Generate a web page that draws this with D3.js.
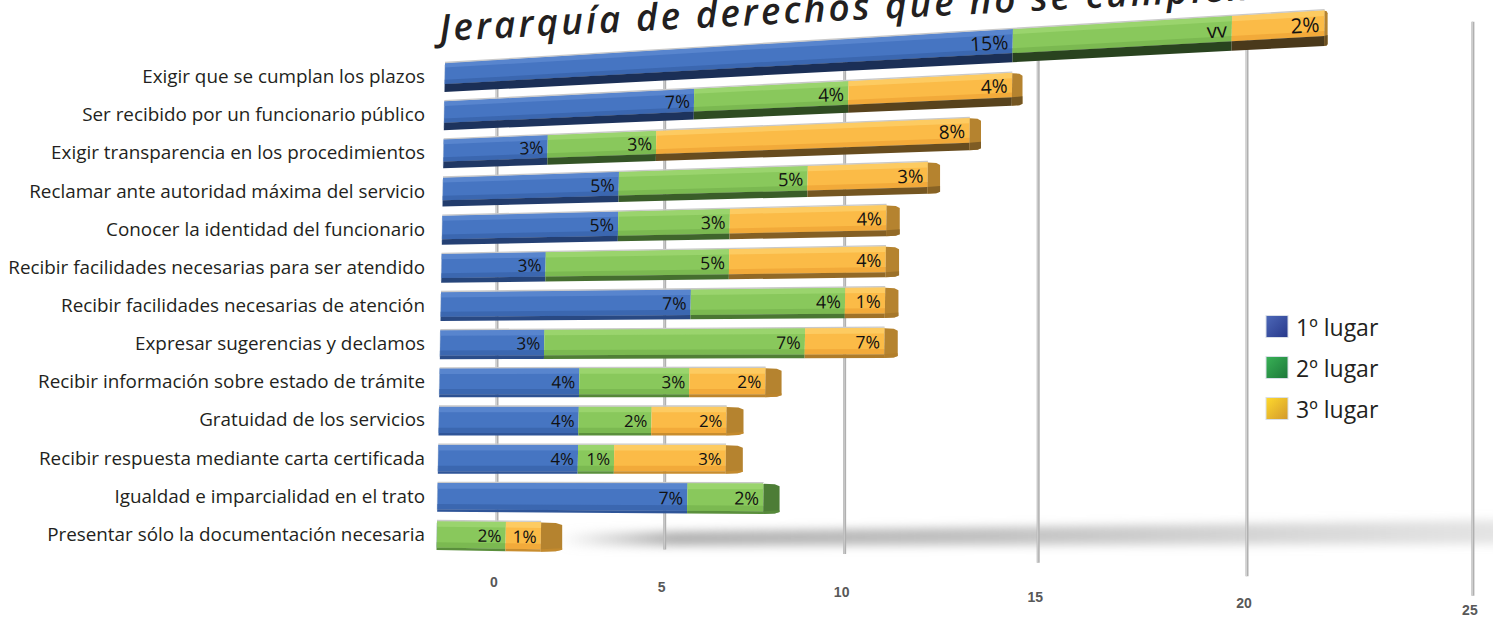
<!DOCTYPE html>
<html><head><meta charset="utf-8">
<script src="https://cdn.jsdelivr.net/npm/d3@7"></script>
<style>html,body{margin:0;padding:0;background:#fff;overflow:hidden}</style>
</head><body>
<svg id="chart" width="1493" height="618"></svg>
<script>
// ---------- DATA ----------
const title = "Jerarquía de derechos que no se cumplen";
const categories = [
  "Exigir que se cumplan los plazos",
  "Ser recibido por un funcionario público",
  "Exigir transparencia en los procedimientos",
  "Reclamar ante autoridad máxima del servicio",
  "Conocer la identidad del funcionario",
  "Recibir facilidades necesarias para ser atendido",
  "Recibir facilidades necesarias de atención",
  "Expresar sugerencias y declamos",
  "Recibir información sobre estado de trámite",
  "Gratuidad de los servicios",
  "Recibir respuesta mediante carta certificada",
  "Igualdad e imparcialidad en el trato",
  "Presentar sólo la documentación necesaria"
];
const seriesNames = ["1º lugar", "2º lugar", "3º lugar"];
const primero = [15, 7, 3, 5, 5, 3, 7, 3, 4, 4, 4, 7, 0];
const segundo = [5, 4, 3, 5, 3, 5, 4, 7, 3, 2, 1, 2, 2];
const tercero = [2, 4, 8, 3, 4, 4, 1, 2, 2, 2, 3, 0, 1];
const primeroLbl = ["15%","7%","3%","5%","5%","3%","7%","3%","4%","4%","4%","7%",""];
const segundoLbl = ["vv","4%","3%","5%","3%","5%","4%","7%","3%","2%","1%","2%","2%"];
const terceroLbl = ["2%","4%","8%","3%","4%","4%","1%","7%","2%","2%","3%","","1%"];
const tickValues = [0, 5, 10, 15, 20, 25];

// ---------- STYLE ----------
const pal = [
  {body:"#4675c2", light:"#5f8bd3", shade:"#3b67b0", mid:"#2f5598", dark:"#1b2f56", cap:"#2c5190", leg0:"#4d68b8", leg1:"#27388a"},
  {body:"#89c85c", light:"#a1d875", shade:"#7bb951", mid:"#5a8f3c", dark:"#29431f", cap:"#4d7d36", leg0:"#39b256", leg1:"#1c773a"},
  {body:"#fbbb47", light:"#fed26c", shade:"#f2aa3a", mid:"#c98d2e", dark:"#4a391b", cap:"#b5832f", leg0:"#ffda2c", leg1:"#d2982d"}
];

const svg = d3.select("#chart");
const defs = svg.append("defs");

// ---------- SCALES + perspective warp ----------
const x = d3.scaleLinear().domain([0, 25]).range([0, 850]);     // bar length (front)
const xg = d3.scaleLinear().domain([0, 25]).range([0, 810]);    // back wall gridlines
const y = d3.scaleBand().domain(categories).range([63, 550]).paddingInner(0.24).paddingOuter(0);
const K = 0.0068 / 34, KG = 0.0068 / 32.4;
function slope(v) {
  if (v < 400) return -0.06 * Math.pow((400 - v) / 337, 1.5);
  if (v > 470) return 0.03 * Math.pow((v - 470) / 113, 1.5);
  return 0;
}
function leftX(v) { return 445 - 8 * (v - 63) / 458; }
function P(u, v) {
  const x0 = leftX(v);
  const X = x0 + u / (1 - K * u);
  return [X, v + slope(v) * (X - x0)];
}
function GX(t) { const u = xg(t); return 497 + u / (1 - KG * u); }
function quad(u0, u1, va, vb) {
  const a = P(u0, va), b = P(u1, va), c = P(u1, vb), d = P(u0, vb);
  return "M" + a + "L" + b + "L" + c + "L" + d + "Z";
}

// ---------- TITLE ----------
const titleText = svg.append("text")
  .attr("x", 440).attr("y", 41)
  .attr("font-family", "'Open Sans', 'Noto Sans', sans-serif")
  .attr("font-style", "italic").attr("font-weight", 600)
  .attr("font-size", 37).attr("fill", "#231f20")
  .text(title);
{
  const n = "Jerarquía de derechos que".length;
  const w = titleText.node().getSubStringLength(0, n);
  titleText.attr("letter-spacing", Math.max(0, (515 - w) / (n - 1)));
  titleText.attr("transform", "rotate(-2.9,440,41)");
}

// ---------- FLOOR SHADOW ----------
const blur = defs.append("filter").attr("id", "blur")
  .attr("x", "-10%").attr("y", "-200%").attr("width", "120%").attr("height", "500%");
blur.append("feGaussianBlur").attr("stdDeviation", 5);
const sg = defs.append("linearGradient").attr("id", "shadowGrad");
sg.append("stop").attr("offset", "0").attr("stop-color", "#b0b0b0").attr("stop-opacity", 0);
sg.append("stop").attr("offset", "0.12").attr("stop-color", "#b0b0b0").attr("stop-opacity", 1);
sg.append("stop").attr("offset", "0.45").attr("stop-color", "#bababa").attr("stop-opacity", 0.9);
sg.append("stop").attr("offset", "1").attr("stop-color", "#cfcfcf").attr("stop-opacity", 0.55);
{
  const vb = y(categories[categories.length - 1]) + y.bandwidth();
  svg.append("path")
    .attr("d", `M560,${vb - 17} L1510,${vb - 30} L1510,${vb - 6} L560,${vb - 4} Z`)
    .attr("fill", "url(#shadowGrad)").attr("filter", "url(#blur)");
}

// ---------- GRIDLINES ----------
const gTop = t => 66 - 44 * (GX(t) - 497) / 968;
const gBot = t => 548 + 47 * Math.pow((GX(t) - 497) / 968, 2);
svg.append("g").selectAll("line").data(tickValues).join("line")
  .attr("x1", d => GX(d)).attr("x2", d => GX(d))
  .attr("y1", gTop).attr("y2", gBot)
  .attr("stroke", "#b0b0b0").attr("stroke-width", 3);
svg.append("g").selectAll("line").data(tickValues).join("line")
  .attr("x1", d => GX(d) - 0.5).attr("x2", d => GX(d) - 0.5)
  .attr("y1", gTop).attr("y2", gBot)
  .attr("stroke", "#d2d2d2").attr("stroke-width", 1);

// tick labels
svg.append("g").selectAll("text").data(tickValues).join("text")
  .attr("x", d => GX(d) - 3)
  .attr("y", d => 582 + 0.0285 * (GX(d) - 497))
  .attr("text-anchor", "middle").attr("dominant-baseline", "central")
  .attr("font-family", "'Liberation Sans Narrow', 'Arial Narrow', 'Liberation Sans', sans-serif")
  .attr("font-weight", "bold").attr("font-size", 14).attr("fill", "#585858")
  .text(d => d);

// ---------- BARS ----------
const rows = categories.map((c, i) => {
  const vals = [primero[i], segundo[i], tercero[i]];
  const lbls = [primeroLbl[i], segundoLbl[i], terceroLbl[i]];
  let acc = 0;
  const segs = vals.map((v, k) => { const s = {k, v0: acc, v1: acc + v, val: v, lbl: lbls[k]}; acc += v; return s; })
    .filter(s => s.val > 0);
  return {c, i, segs, total: acc};
});
const bars = svg.append("g");
rows.forEach(r => {
  const vTop = y(r.c), bw = y.bandwidth();
  const f = Math.max(0, Math.min(1, (400 - vTop) / 337));
  const darkH = 2.5 + 5.5 * f;
  const vFace = vTop + bw - darkH;
  const g = bars.append("g");
  r.segs.forEach(s => {
    const c = pal[s.k];
    const u0 = x(s.v0), u1 = x(s.v1);
    const h = vFace - vTop;
    g.append("path").attr("d", quad(u0, u1, vTop, vFace)).attr("fill", c.body);
    g.append("path").attr("d", quad(u0, u1, vTop, vTop + h * 0.22)).attr("fill", c.light).attr("opacity", 0.7);
    g.append("path").attr("d", quad(u0, u1, vTop + h * 0.8, vFace)).attr("fill", c.shade);
    g.append("path").attr("d", quad(u0, u1, vFace, vTop + bw)).attr("fill", d3.interpolateRgb(c.mid, c.dark)(f));
  });
  // top edge highlight
  const a = P(0, vTop), b = P(x(r.total), vTop);
  g.append("line").attr("x1", a[0]).attr("y1", a[1] - 0.5).attr("x2", b[0]).attr("y2", b[1] - 0.5)
    .attr("stroke", "#c9c9c9").attr("stroke-width", 1.3);
  // left end edge
  const lt = P(0, vTop), lb = P(0, vTop + bw);
  g.append("line").attr("x1", lt[0]).attr("y1", lt[1] + 2).attr("x2", lb[0]).attr("y2", lb[1] - 2)
    .attr("stroke", "#8aa0c0").attr("stroke-opacity", 0.35).attr("stroke-width", 1);
  // right end cap
  const last = r.segs[r.segs.length - 1];
  const c = pal[last.k];
  const t1 = P(x(r.total), vTop), f1 = P(x(r.total), vFace), b1 = P(x(r.total), vTop + bw);
  const cw = Math.max(2.5, 21 - (t1[0] - 545) * 0.023);
  g.append("path")
    .attr("d", `M${t1[0]},${t1[1] + 0.5} L${t1[0] + cw * 0.7},${t1[1] + 1} L${t1[0] + cw},${t1[1] + 3} L${t1[0] + cw},${b1[1] - 2} L${t1[0] + cw * 0.7},${b1[1] - 0.5} L${b1[0]},${b1[1]} Z`)
    .attr("fill", c.cap);
  g.append("path")
    .attr("d", `M${f1[0]},${f1[1]} L${t1[0] + cw},${f1[1] - 1} L${t1[0] + cw},${b1[1] - 2} L${t1[0] + cw * 0.7},${b1[1] - 0.5} L${b1[0]},${b1[1]} Z`)
    .attr("fill", d3.interpolateRgb(c.mid, c.dark)(f)).attr("opacity", 0.7);
  // value labels
  r.segs.forEach(s => {
    if (!s.lbl) return;
    const vc = vTop + (vFace - vTop) / 2 + 0.5;
    const p = P(x(s.v1), vc);
    const mag = P(x(s.v1), vc + 0.5)[1] - P(x(s.v1), vc - 0.5)[1];
    const ang = Math.atan(slope(vc)) * 180 / Math.PI;
    g.append("text")
      .attr("transform", `translate(${p[0] - 4 * mag},${p[1]}) rotate(${ang})`)
      .attr("text-anchor", "end").attr("dominant-baseline", "central")
      .attr("font-family", "'Open Sans', 'Noto Sans', sans-serif")
      .attr("font-size", 16.8 * mag).attr("fill", "#111")
      .text(s.lbl);
  });
});

// ---------- CATEGORY LABELS ----------
const catG = svg.append("g")
  .attr("font-family", "'Open Sans', 'Noto Sans', sans-serif").attr("fill", "#231f20");
const cats = catG.selectAll("text").data(categories).join("text")
  .attr("x", 425).attr("y", d => y(d) + y.bandwidth() / 2 - 1.5)
  .attr("text-anchor", "end").attr("dominant-baseline", "central")
  .attr("font-size", 17).text(d => d);
{
  const longest = cats.filter(d => d === "Recibir facilidades necesarias para ser atendido").node();
  const w = longest.getComputedTextLength();
  cats.attr("font-size", 17 * 417 / w);
}

// ---------- LEGEND ----------
const legG = svg.append("g");
seriesNames.forEach((s, k) => {
  const gr = defs.append("linearGradient").attr("id", "leg" + k)
    .attr("x1", 0).attr("y1", 0).attr("x2", 1).attr("y2", 1);
  gr.append("stop").attr("offset", 0).attr("stop-color", pal[k].leg0);
  gr.append("stop").attr("offset", 1).attr("stop-color", pal[k].leg1);
});
const legY = d3.scalePoint().domain(seriesNames).range([326.5, 408.5]);
legG.selectAll("rect").data(seriesNames).join("rect")
  .attr("x", 1266).attr("y", d => legY(d) - 11).attr("width", 22).attr("height", 22)
  .attr("fill", (d, k) => `url(#leg${k})`).attr("stroke", "#d9dfe8").attr("stroke-width", 1);
legG.selectAll("text").data(seriesNames).join("text")
  .attr("x", 1296).attr("y", d => legY(d))
  .attr("dominant-baseline", "central")
  .attr("font-family", "'Open Sans', 'Noto Sans', sans-serif")
  .attr("font-size", 23).attr("fill", "#231f20")
  .text(d => d);
</script>
</body></html>
